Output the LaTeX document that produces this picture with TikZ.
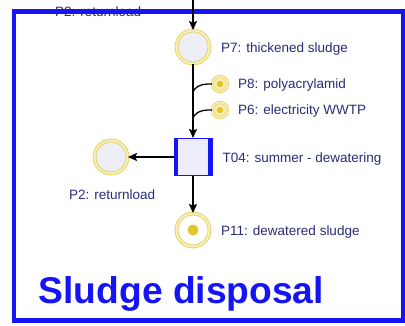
\documentclass[tikz,border=0pt]{standalone}
\usepackage{fontspec}
\setmainfont{Liberation Sans}
\usetikzlibrary{arrows.meta}
\definecolor{frameblue}{RGB}{20,20,245}
\definecolor{labelc}{RGB}{40,45,120}
\definecolor{ringY}{RGB}{228,208,100}
\definecolor{ringP}{RGB}{248,240,185}
\definecolor{placefill}{RGB}{238,238,247}
\definecolor{tokenY}{RGB}{226,198,42}
\definecolor{transfill}{RGB}{238,238,250}
\tikzset{
  place/.style={circle, draw=ringY, double=ringP, double distance=2pt, line width=0.9pt, fill=placefill, minimum size=33pt, inner sep=0pt},
  smallplace/.style={circle, draw=ringY, double=ringP, double distance=1.6pt, line width=0.8pt, fill=ringP, minimum size=15pt, inner sep=0pt},
  lab/.style={font=\fontsize{13.5}{14}\selectfont, text=labelc, inner sep=0pt, anchor=base west},
  arcline/.style={draw=black, line width=1.4pt, -{Stealth[length=9pt,width=8pt,inset=1.5pt]}},
  joinline/.style={draw=black, line width=1.3pt},
}
\begin{document}
\begin{tikzpicture}[x=1pt,y=-1pt]
\useasboundingbox (0,0) rectangle (405,325);
\fill[white] (0,0) rectangle (405,325);
% hidden label behind frame
\node[lab] (p2top) at (55,16.5) {P2: returnload};
% frame
\draw[frameblue, line width=4.5pt] (14,11.7) rectangle (403,320.5);
% places
\coordinate (topin) at (193,0);
\node[place] (p7) at (193,47) {};
\node[smallplace] (p8) at (220,84) {};
\node[smallplace] (p6) at (220,110) {};
\fill[tokenY] (p8) circle (3.3pt);
\fill[tokenY] (p6) circle (3.3pt);
\node[draw=frameblue, line width=1pt, fill=transfill, minimum width=38pt, minimum height=37pt, inner sep=0pt] (t04) at (193,157) {};
\draw[frameblue, line width=4.5pt] ([xshift=2.25pt]t04.north west) -- ([xshift=2.25pt]t04.south west);
\draw[frameblue, line width=4.5pt] ([xshift=-2.25pt]t04.north east) -- ([xshift=-2.25pt]t04.south east);
\node[place] (p2) at (111,157) {};
\node[place, fill=white] (p11) at (193,230) {};
\fill[tokenY] (p11) circle (5.5pt);
% labels
\node[lab] (lp7) at (221,52) {P7: thickened sludge};
\node[lab] (lp8) at (238,88.5) {P8: polyacrylamid};
\node[lab] (lp6) at (238,114.5) {P6: electricity WWTP};
\node[lab] (lt04) at (222.5,162) {T04: summer - dewatering};
\node[lab] (lp2) at (69,199) {P2: returnload};
\node[lab] (lp11) at (221,235) {P11: dewatered sludge};
\node[font=\bfseries\fontsize{37.2}{38}\selectfont, text=frameblue, inner sep=0pt, anchor=base west] (title) at (38.5,303) {Sludge disposal};
% connectors
\draw[arcline] (topin) -- (p7.north);
\draw[arcline] (p7.south) -- (t04.north);
\coordinate (j8) at (193,94);
\coordinate (j6) at (193,120);
\draw[joinline] (p8.west) -- ++(-4,0) to[out=180,in=90] (j8);
\draw[joinline] (p6.west) -- ++(-4,0) to[out=180,in=90] (j6);
\draw[arcline] (t04.west) -- (p2.east);
\draw[arcline] (t04.south) -- (p11.north);
\end{tikzpicture}
\end{document}
